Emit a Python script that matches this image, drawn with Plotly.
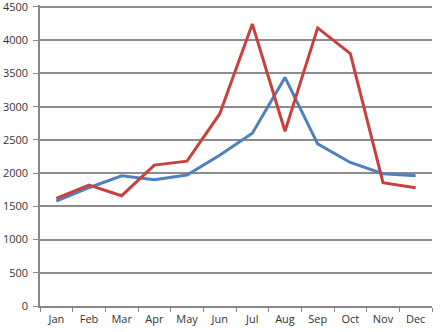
import plotly.graph_objects as go

months = ["Jan", "Feb", "Mar", "Apr", "May", "Jun", "Jul", "Aug", "Sep", "Oct", "Nov", "Dec"]
blue_values = [1580, 1780, 1960, 1900, 1970, 2270, 2600, 3440, 2440, 2160, 1990, 1960]
red_values = [1620, 1820, 1660, 2120, 2180, 2890, 4245, 2630, 4185, 3800, 1855, 1780]
y_ticks = [0, 500, 1000, 1500, 2000, 2500, 3000, 3500, 4000, 4500]

fig = go.Figure()
fig.add_trace(go.Scatter(x=months, y=blue_values, mode="lines",
                         line=dict(color="#4F81BD", width=3), showlegend=False))
fig.add_trace(go.Scatter(x=months, y=red_values, mode="lines",
                         line=dict(color="#C8413F", width=3), showlegend=False))

font = dict(family="Open Sans", size=11, color="#333333")
fig.update_layout(
    width=446, height=332,
    margin=dict(l=40, r=14, t=5, b=26, autoexpand=False),
    paper_bgcolor="white", plot_bgcolor="white",
    font=font,
    xaxis=dict(
        type="category", range=[-0.5, 11.5], tickson="boundaries",
        ticks="outside", ticklen=4, tickcolor="#888888", tickwidth=1,
        showline=True, linecolor="#888888", linewidth=1.5,
        showgrid=False, zeroline=False, tickfont=font, ticklabelstandoff=2,
        automargin=False,
    ),
    yaxis=dict(
        range=[0, 4530], tickvals=y_ticks, ticktext=[str(v) for v in y_ticks],
        ticks="outside", ticklen=5, tickcolor="#888888",
        showline=True, linecolor="#888888", linewidth=1.5,
        showgrid=True, gridcolor="#8C8C8C", gridwidth=1.5,
        zeroline=False, tickfont=font, ticklabelstandoff=3,
        ticklabeloverflow="allow", automargin=False,
    ),
)
fig.write_html("out.html")
